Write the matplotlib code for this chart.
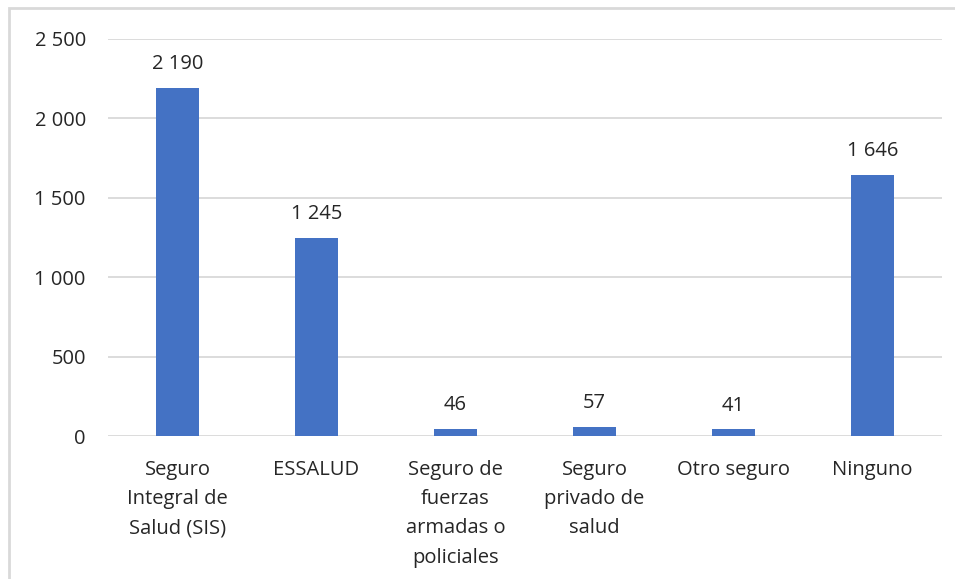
import numpy as np
import matplotlib.pyplot as plt
from matplotlib.patches import Rectangle

categories = ["Seguro\nIntegral de\nSalud (SIS)", "ESSALUD", "Seguro de\nfuerzas\narmadas o\npoliciales",
              "Seguro\nprivado de\nsalud", "Otro seguro", "Ninguno"]
values = [2190, 1245, 46, 57, 41, 1646]
yticks = [0, 500, 1000, 1500, 2000, 2500]

plt.rcParams['font.family'] = ['Open Sans', 'DejaVu Sans']
txt_color = "#262626"
fs = 14.5

def fmt(v):
    return "{:,}".format(v).replace(",", " ")

fig = plt.figure(figsize=(9.55, 5.79), dpi=100)
ax = fig.add_axes([108/955, 1-436/579, 834/955, 397/579])

x = np.arange(len(categories))
ax.bar(x, values, width=0.31, color="#4472C4", zorder=3)
for xi, v in zip(x, values):
    ax.annotate(fmt(v), (xi, v), xytext=(0, 10), textcoords="offset points",
                ha="center", va="bottom", fontsize=fs, color=txt_color)

ax.set_xlim(-0.5, len(categories)-0.5)
ax.set_ylim(0, 2500)
ax.set_yticks(yticks)
ax.set_yticklabels([fmt(t) for t in yticks], fontsize=fs, color=txt_color)
ax.set_xticks(x)
ax.set_xticklabels(categories, fontsize=fs, color=txt_color, linespacing=1.62, va="top")
ax.tick_params(axis="both", length=0)
ax.tick_params(axis="y", pad=16)
ax.tick_params(axis="x", pad=17)
ax.grid(axis="y", color="#d9d9d9", linewidth=1.3, zorder=0)
for s in ax.spines.values():
    s.set_visible(False)

# chart frame (cut off at right and bottom)
fig.patches.append(Rectangle((9/955, -0.1), 1.1, 1 - 8/579 + 0.1, transform=fig.transFigure,
                             fill=False, edgecolor="#d9d9d9", linewidth=2))

fig.savefig("out.png", dpi=100)
